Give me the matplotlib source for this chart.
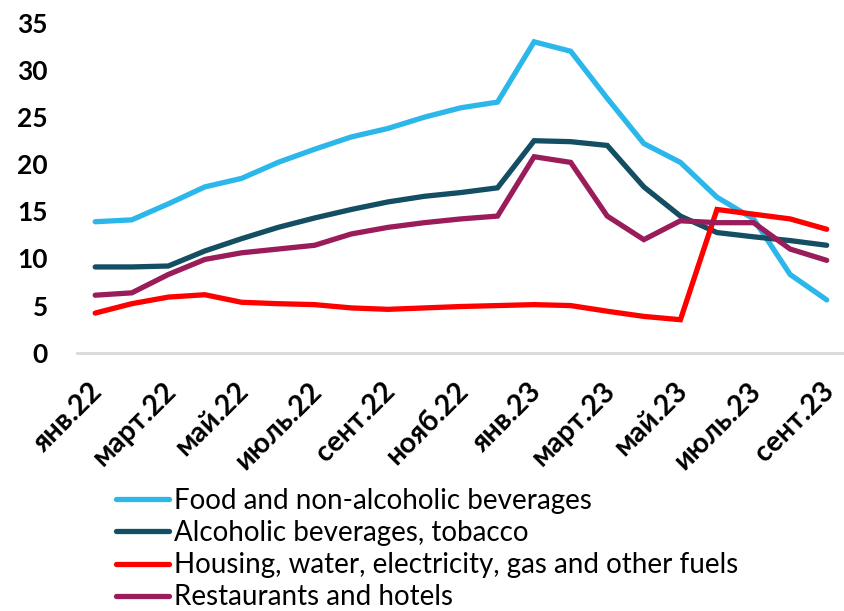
import matplotlib
matplotlib.use("Agg")
import matplotlib.pyplot as plt
import matplotlib.transforms as mtransforms

months = ["янв.22", "фев.22", "март.22", "апр.22", "май.22", "июнь.22", "июль.22",
          "авг.22", "сент.22", "окт.22", "нояб.22", "дек.22", "янв.23", "фев.23",
          "март.23", "апр.23", "май.23", "июнь.23", "июль.23", "авг.23", "сент.23"]

food = [13.9, 14.1, 15.8, 17.6, 18.5, 20.2, 21.6, 22.9, 23.8, 25.0, 26.0, 26.6,
        33.0, 32.0, 27.0, 22.2, 20.2, 16.5, 14.2, 8.3, 5.6]
alcohol = [9.1, 9.1, 9.2, 10.8, 12.1, 13.3, 14.3, 15.2, 16.0, 16.6, 17.0, 17.5,
           22.5, 22.4, 22.0, 17.6, 14.5, 12.75, 12.3, 11.9, 11.4]
housing = [4.2, 5.2, 5.9, 6.15, 5.35, 5.2, 5.1, 4.75, 4.6, 4.75, 4.9, 5.0,
           5.1, 5.0, 4.4, 3.85, 3.5, 15.2, 14.7, 14.2, 13.1]
restaurants = [6.1, 6.35, 8.3, 9.9, 10.6, 11.0, 11.4, 12.6, 13.3, 13.8, 14.2, 14.5,
               20.8, 20.2, 14.5, 12.0, 14.0, 13.8, 13.8, 11.0, 9.8]

series_names = ["Food and non-alcoholic beverages",
                "Alcoholic beverages, tobacco",
                "Housing, water, electricity, gas and other fuels",
                "Restaurants and hotels"]
series_values = [food, alcohol, housing, restaurants]
colors = ["#2CB7EA", "#134E62", "#FF0000", "#9B1C5B"]

yticks = [0, 5, 10, 15, 20, 25, 30, 35]

plt.rcParams['font.family'] = ['Lato', 'DejaVu Sans']

fig = plt.figure(figsize=(8.45, 6.11), dpi=100)
ax = fig.add_axes([0.091, 0.4228, 0.909, 0.5396])

x = list(range(len(months)))
for name, vals, c in zip(series_names, series_values, colors):
    ax.plot(x, vals, color=c, lw=3.8, label=name, solid_joinstyle='miter',
            solid_capstyle='round')

ax.set_xlim(-0.5, len(months) - 0.5)
ax.set_ylim(0, 35)
ax.set_yticks(yticks)
ax.set_yticklabels([str(v) for v in yticks], fontsize=19, fontweight='bold')
ax.set_xticks(x[::2])
ax.set_xticklabels(months[::2], rotation=45, ha='right', va='top',
                   rotation_mode='anchor', fontsize=20.5, fontweight='bold')
ax.tick_params(axis='both', length=0)
ax.tick_params(axis='x', pad=18)
ax.tick_params(axis='y', pad=21)

shift = mtransforms.ScaledTranslation(-6 / 100, 0, fig.dpi_scale_trans)
for lab in ax.get_xticklabels():
    lab.set_transform(lab.get_transform() + shift)

for s in ['top', 'right', 'left']:
    ax.spines[s].set_visible(False)
ax.spines['bottom'].set_color('#D9D9D9')
ax.spines['bottom'].set_linewidth(2)

leg = fig.legend(loc='upper left', bbox_to_anchor=(116 / 845, 1 - 488 / 611),
                 frameon=False, fontsize=20, handlelength=1.9, handletextpad=0.18,
                 labelspacing=0.22, borderpad=0, borderaxespad=0)

fig.savefig("out.png", dpi=100)
